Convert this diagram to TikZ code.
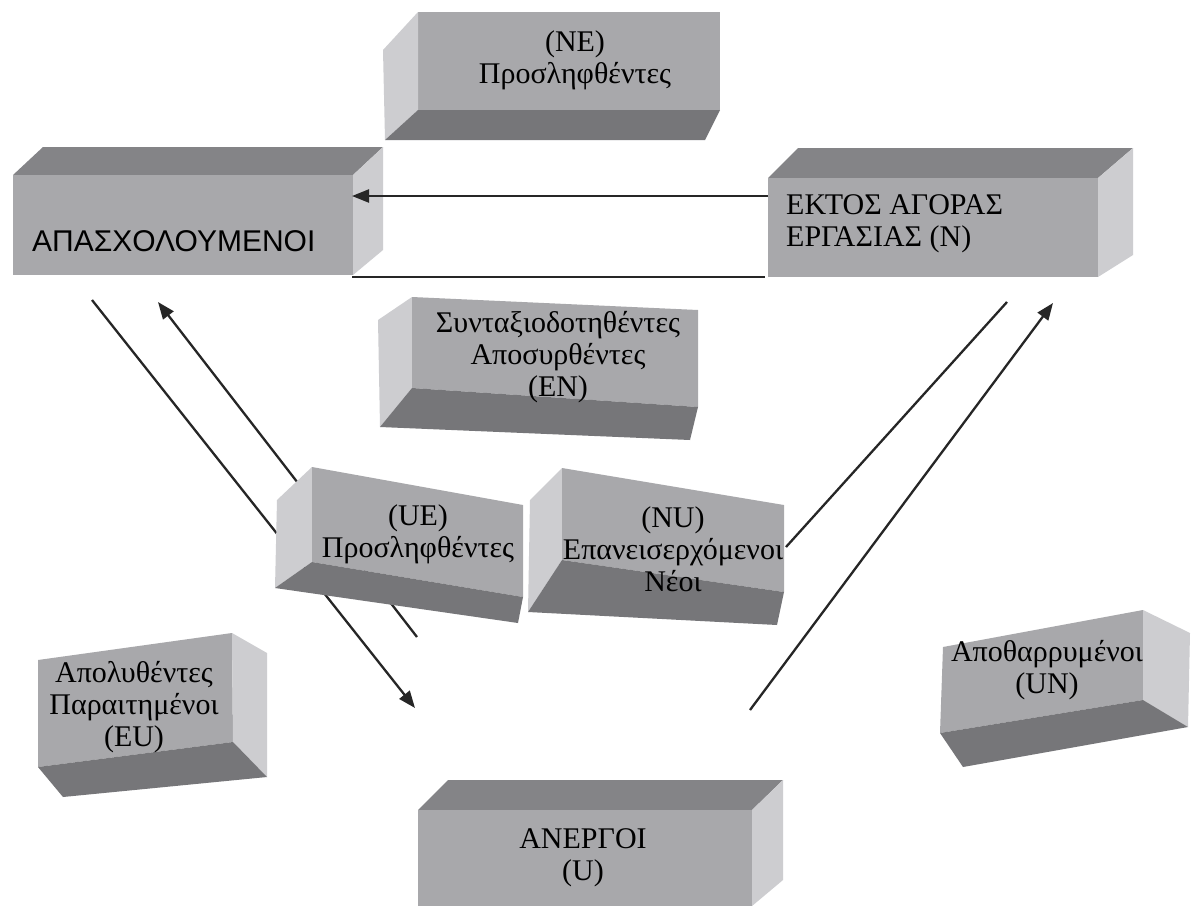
\documentclass[tikz,border=0pt]{standalone}
\usepackage{fontspec}
\setmainfont{Liberation Serif}
\newfontfamily\arialfont{Liberation Sans}
\usetikzlibrary{arrows.meta}
\definecolor{frontc}{RGB}{168,168,171}
\definecolor{darkc}{RGB}{118,118,121}
\definecolor{topc}{RGB}{132,132,135}
\definecolor{lightc}{RGB}{205,205,208}
\begin{document}
\begin{tikzpicture}[x=1pt,y=-1pt,
  front/.style={fill=frontc},
  darkface/.style={fill=darkc},
  topface/.style={fill=topc},
  lightface/.style={fill=lightc},
  lbl/.style={inner sep=0pt,align=center,font=\fontsize{30}{32}\selectfont},
  conn/.style={line width=2.3pt,draw=black!85},
  arr/.style={conn,-{Triangle[length=17pt,width=13pt]}}]
\useasboundingbox[fill=white] (0,0) rectangle (1195,906);

% connector end points
\coordinate (nL) at (768,196);
\coordinate (eR) at (352,196);
\coordinate (eB) at (352,277);
\coordinate (nB) at (765,277);
\coordinate (eD) at (92,300);
\coordinate (uT) at (415,708);
\coordinate (ueB) at (417,637);
\coordinate (eU) at (158,302);
\coordinate (nD) at (1007,302);
\coordinate (nuR) at (786,547);
\coordinate (uR) at (750,710);
\coordinate (nU) at (1053,303);

% connectors behind the boxes
\draw[arr] (eD) -- (uT);
\draw[arr] (ueB) -- (eU);
\draw[conn] (nD) -- (nuR);
\draw[arr] (uR) -- (nU);

% NE box
\fill[front] (418,12) -- (720,12) -- (720,110) -- (418,110) -- cycle;
\fill[lightface] (383,50) -- (418,12) -- (418,110) -- (385,140) -- cycle;
\fill[darkface] (418,110) -- (720,110) -- (705,140) -- (385,140) -- cycle;
\node[lbl] (ne) at (575,60) {(ΝΕ)\\Προσληφθέντες};

% APASXOLOUMENOI box
\fill[topface] (13,175) -- (43,147) -- (383,147) -- (353,175) -- cycle;
\fill[front] (13,175) -- (353,175) -- (353,275) -- (13,275) -- cycle;
\fill[lightface] (353,175) -- (383,147) -- (383,250) -- (353,275) -- cycle;
\node[lbl,anchor=west,font=\arialfont\fontsize{30}{32}\selectfont] (emp) at (32,241) {ΑΠΑΣΧΟΛΟΥΜΕΝΟΙ};

% EKTOS box
\fill[topface] (768,178) -- (798,148) -- (1133,148) -- (1098,178) -- cycle;
\fill[front] (768,178) -- (1098,178) -- (1098,277) -- (768,277) -- cycle;
\fill[lightface] (1098,178) -- (1133,148) -- (1133,255) -- (1098,277) -- cycle;
\node[lbl,anchor=west,align=left] (out) at (786,224) {ΕΚΤΟΣ ΑΓΟΡΑΣ\\ΕΡΓΑΣΙΑΣ (Ν)};

% EN box
\fill[lightface] (378,320) -- (412,297) -- (412,388) -- (380,427) -- cycle;
\fill[front] (412,297) -- (698,310) -- (698,407) -- (412,388) -- cycle;
\fill[darkface] (412,388) -- (698,407) -- (690,440) -- (380,427) -- cycle;
\node[lbl] (en) at (558,357) {Συνταξιοδοτηθέντες\\Αποσυρθέντες\\(ΕΝ)};

% UE box
\fill[lightface] (277,500) -- (312,467) -- (312,562) -- (275,588) -- cycle;
\fill[front] (312,467) -- (523,505) -- (523,597) -- (312,562) -- cycle;
\fill[darkface] (312,562) -- (523,597) -- (518,623) -- (275,588) -- cycle;
\node[lbl] (ue) at (418,534) {(UE)\\Προσληφθέντες};

% NU box
\fill[lightface] (530,500) -- (562,468) -- (562,560) -- (528,612) -- cycle;
\fill[front] (562,468) -- (784,505) -- (784,592) -- (562,560) -- cycle;
\fill[darkface] (562,560) -- (784,592) -- (777,625) -- (528,612) -- cycle;
\node[lbl] (nu) at (673,549) {(NU)\\Επανεισερχόμενοι\\Νέοι};

% EU box
\fill[front] (38,660) -- (232,633) -- (233,742) -- (38,767) -- cycle;
\fill[lightface] (232,633) -- (267,653) -- (267,777) -- (233,742) -- cycle;
\fill[darkface] (38,767) -- (233,742) -- (267,777) -- (63,797) -- cycle;
\node[lbl] (eu) at (134,707) {Απολυθέντες\\Παραιτημένοι\\(EU)};

% UN box
\fill[front] (943,647) -- (1143,610) -- (1143,700) -- (940,733) -- cycle;
\fill[lightface] (1143,610) -- (1190,633) -- (1188,727) -- (1143,700) -- cycle;
\fill[darkface] (940,733) -- (1143,700) -- (1188,727) -- (963,767) -- cycle;
\node[lbl] (un) at (1047,670) {Αποθαρρυμένοι\\(UN)};

% ANERGOI box
\fill[topface] (418,810) -- (448,780) -- (783,780) -- (752,810) -- cycle;
\fill[front] (418,810) -- (752,810) -- (752,906) -- (418,906) -- cycle;
\fill[lightface] (752,810) -- (783,780) -- (783,880) -- (752,906) -- cycle;
\node[lbl] (un2) at (583,858) {ΑΝΕΡΓΟΙ\\(U)};

% connectors in front
\draw[arr] (nL) -- (eR);
\draw[conn] (eB) -- (nB);
\end{tikzpicture}
\end{document}
